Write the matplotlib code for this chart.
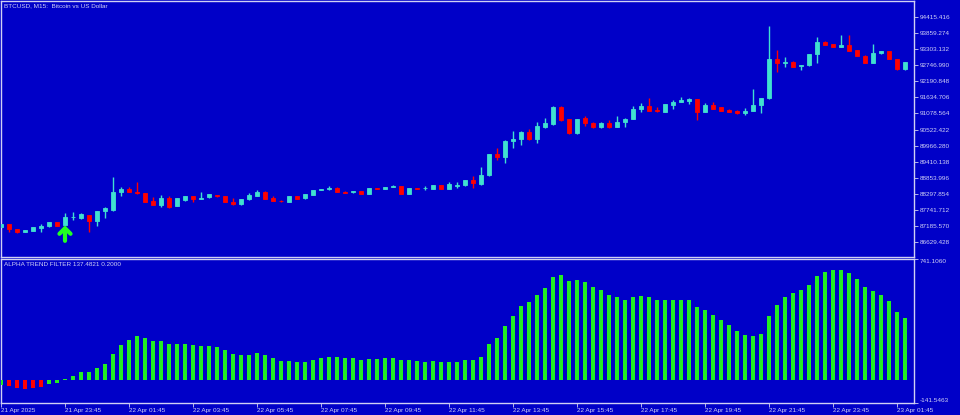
import matplotlib
matplotlib.use('Agg')
import matplotlib.pyplot as plt
import numpy as np

# BTCUSD M15 candles, 21 Apr 21:45 -> 23 Apr 02:00
opens = [87138, 87232, 87069, 86975, 87010, 87115, 87162, 87301, 87208, 87490,
         87461, 87555, 87346, 87693, 87728, 88363, 88457, 88342, 88308, 88040,
         87902, 88155, 87877, 88075, 88214, 88120, 88169, 88249, 88214, 88016,
         87926, 88099, 88224, 88363, 88155, 88058, 88016, 88214, 88134, 88249,
         88432, 88445, 88502, 88363, 88342, 88388, 88293, 88481, 88467, 88537,
         88547, 88293, 88491, 88480, 88467, 88596, 88457, 88571, 88596, 88769,
         88630, 88932, 89671, 89578, 90133, 90181, 90445, 90202, 90618, 90712,
         91313, 90886, 90390, 90910, 90757, 90598, 90757, 90618, 90782, 90896,
         91233, 91337, 91188, 91129, 91382, 91476, 91500, 91580, 91139, 91372,
         91292, 91208, 91174, 91080, 91174, 91372, 91604, 92978, 92839, 92874,
         92714, 92749, 93131, 93568, 93488, 93395, 93454, 93280, 93082, 92839,
         93165, 93245, 92968, 92610]
closes = [87232, 87069, 86975, 87034, 87138, 87183, 87301, 87183, 87485, 87500,
          87579, 87346, 87693, 87787, 88363, 88445, 88363, 88308, 88016, 87902,
          88134, 87843, 88134, 88214, 88110, 88155, 88273, 88214, 88016, 87926,
          88110, 88249, 88363, 88110, 88051, 88030, 88214, 88120, 88273, 88422,
          88457, 88502, 88363, 88325, 88388, 88293, 88481, 88457, 88516, 88561,
          88293, 88481, 88467, 88500, 88596, 88457, 88620, 88596, 88769, 88675,
          88943, 89671, 89567, 90133, 90192, 90445, 90181, 90643, 90757, 91313,
          90851, 90390, 90886, 90737, 90598, 90757, 90598, 90792, 90896, 91243,
          91337, 91164, 91153, 91395, 91465, 91535, 91590, 91139, 91372, 91233,
          91174, 91139, 91080, 91174, 91372, 91604, 92968, 92819, 92874, 92700,
          92760, 93141, 93568, 93454, 93395, 93454, 93256, 93082, 92839, 93186,
          93245, 92968, 92610, 92864]
highs = [87250, 87245, 87080, 87050, 87150, 87242, 87315, 87315, 87614, 87648,
         87640, 87570, 87710, 87843, 88873, 88537, 88537, 88689, 88320, 88190,
         88249, 88224, 88150, 88230, 88230, 88342, 88290, 88260, 88230, 88134,
         88125, 88315, 88422, 88380, 88224, 88070, 88230, 88230, 88290, 88440,
         88470, 88547, 88515, 88375, 88400, 88400, 88495, 88495, 88530, 88590,
         88560, 88495, 88505, 88547, 88610, 88610, 88689, 88689, 88785, 88908,
         89231, 89690, 89869, 90150, 90469, 90460, 90530, 90792, 90910, 91330,
         91340, 90900, 90900, 90990, 90770, 90770, 90851, 90990, 90910, 91337,
         91452, 91625, 91292, 91410, 91545, 91635, 91605, 91595, 91452, 91465,
         91305, 91220, 91190, 91255, 91916, 91620, 94113, 93280, 93047, 92890,
         92775, 93155, 93742, 93585, 93505, 93800, 93800, 93295, 93095, 93488,
         93260, 93260, 92985, 92880]
lows = [87120, 86975, 86930, 86960, 87000, 86975, 87150, 87170, 87195, 87381,
        87420, 86975, 87183, 87461, 87700, 88224, 88340, 88295, 88000, 87890,
        87843, 87787, 87860, 88060, 88016, 88110, 88155, 88169, 88000, 87910,
        87910, 88085, 88210, 88095, 88040, 88020, 88000, 88105, 88120, 88235,
        88420, 88430, 88350, 88310, 88330, 88280, 88280, 88445, 88455, 88520,
        88280, 88280, 88455, 88422, 88455, 88445, 88445, 88502, 88580, 88481,
        88615, 88915, 89464, 89349, 89869, 89980, 90165, 90063, 90560, 90695,
        90835, 90370, 90370, 90640, 90580, 90570, 90580, 90600, 90618, 90880,
        91139, 91150, 91140, 91115, 91250, 91465, 91405, 90851, 91125, 91220,
        91160, 91125, 91065, 91010, 91160, 91101, 91590, 92530, 92700, 92685,
        92585, 92735, 92819, 93440, 93380, 93380, 93240, 93065, 92825, 92825,
        93150, 92955, 92595, 92595]

# Alpha Trend Filter histogram
trend = [-35, -41, -53, -57, -49, -45, -25, -18, 2, 25,
         49, 49, 74, 94, 160, 211, 246, 270, 258, 240,
         240, 217, 217, 217, 211, 209, 209, 203, 184, 160,
         149, 154, 162, 149, 131, 115, 113, 106, 111, 123,
         133, 141, 141, 135, 131, 123, 129, 129, 135, 135,
         119, 119, 113, 111, 117, 106, 111, 111, 123, 123,
         141, 217, 258, 332, 393, 454, 477, 522, 565, 631,
         645, 608, 614, 600, 571, 553, 522, 506, 491, 506,
         516, 510, 491, 491, 491, 491, 491, 448, 430, 399,
         369, 338, 301, 276, 270, 283, 393, 461, 510, 534,
         553, 584, 639, 664, 676, 676, 657, 620, 571, 547,
         522, 485, 418, 381]
bear_bars = [1, 2, 3, 4, 5]
signal_bar = 8

price_ticks = [86629.428 + k * 556.142 for k in range(15)]
time_labels = ['21 Apr 2025', '21 Apr 23:45', '22 Apr 01:45', '22 Apr 03:45',
               '22 Apr 05:45', '22 Apr 07:45', '22 Apr 09:45', '22 Apr 11:45',
               '22 Apr 13:45', '22 Apr 15:45', '22 Apr 17:45', '22 Apr 19:45',
               '22 Apr 21:45', '22 Apr 23:45', '23 Apr 01:45']
hist_max = 741.1060
hist_min = -141.5463

bg = '#0000c8'
fg = '#d0d0f4'
up_col = '#40e0d0'
dn_col = '#ff0000'
hist_col = '#22ee22'
plt.rcParams['font.family'] = ['Liberation Sans', 'DejaVu Sans']

W, H = 960, 415
fig = plt.figure(figsize=(W / 100, H / 100), dpi=100, facecolor=bg)
ax1 = fig.add_axes([1 / W, 1 - 257 / H, 913 / W, 256 / H], facecolor=bg)
ax2 = fig.add_axes([1 / W, 1 - 402.7 / H, 913 / W, 143.7 / H], facecolor=bg)

x = np.arange(len(opens))
o = np.array(opens); c = np.array(closes)
cols = [up_col if cc >= oo else dn_col for oo, cc in zip(o, c)]

ax1.vlines(x, lows, highs, colors=cols, lw=1, zorder=2)
ax1.bar(x, np.abs(c - o), bottom=np.minimum(o, c), width=0.62, color=cols,
        edgecolor=cols, linewidth=0.6, zorder=3)
# buy signal arrow under the signal candle
ax1.annotate('', xy=(signal_bar, 87200), xytext=(signal_bar, 86660),
             arrowprops=dict(arrowstyle='->,head_width=0.4,head_length=0.4',
                             color='#22ff22', lw=3, shrinkA=0, shrinkB=0),
             zorder=4)

ax1.set_xlim(0, 913 / 8)
ax1.set_ylim(94415.416 - (257 - 17.3) * 34.69, 94415.416 + 16.3 * 34.69)
ax1.yaxis.tick_right()
ax1.set_yticks(price_ticks)
ax1.set_yticklabels(['%.3f' % t for t in price_ticks])
ax1.set_xticks([])

hcols = [dn_col if i in bear_bars else hist_col for i in x]
ax2.bar(x, trend, width=0.58, color=hcols, zorder=3)
ax2.set_xlim(0, 913 / 8)
ax2.set_ylim(hist_min, hist_max)
ax2.yaxis.tick_right()
ax2.set_yticks([hist_min, hist_max])
ax2.set_yticklabels(['%.4f' % hist_min, '%.4f' % hist_max])
ax2.get_yticklabels()[0].set_va('bottom')
ax2.get_yticklabels()[1].set_va('top')
ax2.set_xticks(x[::8])
ax2.set_xticklabels(time_labels, ha='left')

for ax in (ax1, ax2):
    for s in ax.spines.values():
        s.set_color(fg)
        s.set_linewidth(1)
    ax.tick_params(colors=fg, labelcolor=fg, labelsize=4.6, length=3, width=0.6, pad=1)

fig.text(4 / W, 1 - 5.5 / H, 'BTCUSD, M15:  Bitcoin vs US Dollar', color=fg,
         fontsize=4.6, va='center')
fig.text(4 / W, 1 - 264 / H, 'ALPHA TREND FILTER 137.4821 0.2000', color=fg,
         fontsize=4.6, va='center')

fig.savefig('out.png', dpi=100, facecolor=bg)
